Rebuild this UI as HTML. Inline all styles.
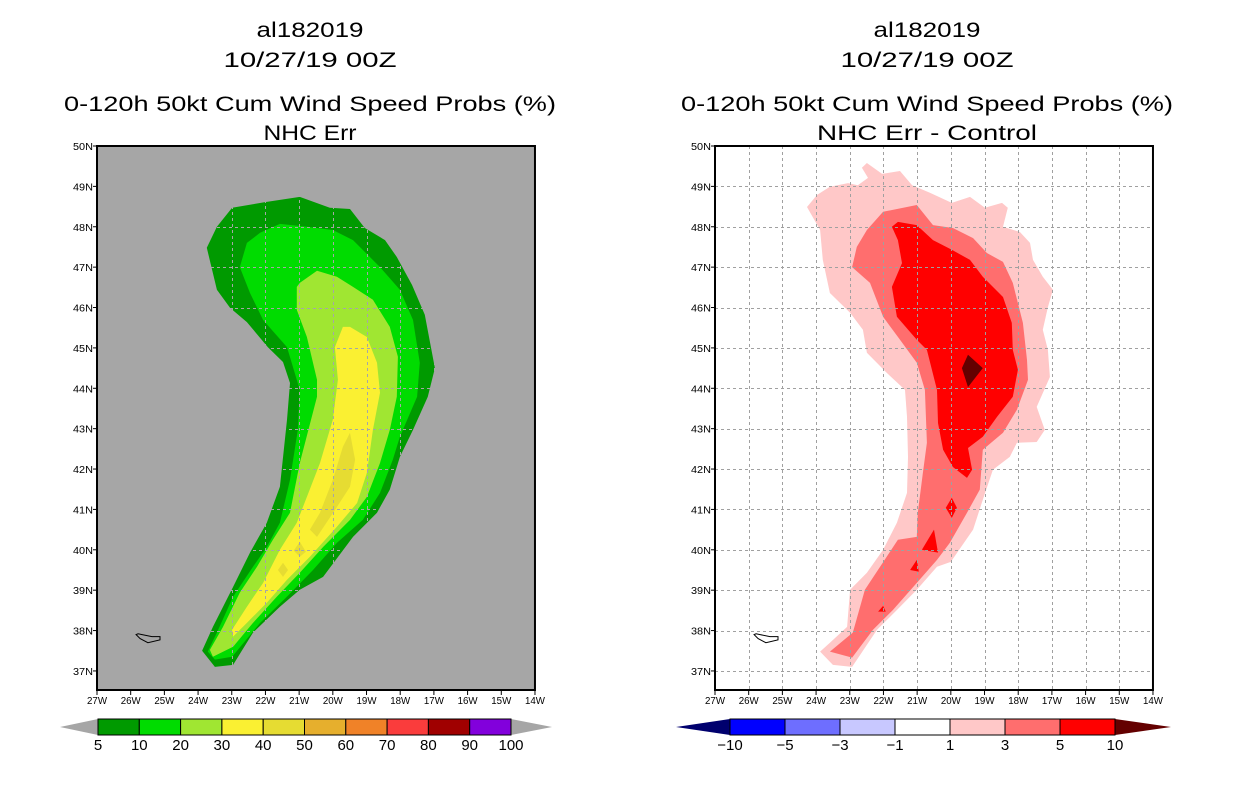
<!DOCTYPE html>
<html><head><meta charset="utf-8"><style>
html,body{margin:0;padding:0;background:#fff;}
svg{display:block;font-family:"Liberation Sans",sans-serif;}
</style></head><body>
<svg id="fig" width="1236" height="800" viewBox="0 0 1236 800" xmlns="http://www.w3.org/2000/svg"></svg>
<script>
// ---------- data ----------
const lonTicks = [27,26,25,24,23,22,21,20,19,18,17,16,15,14];
const latTicks = [37,38,39,40,41,42,43,44,45,46,47,48,49,50];
const leftLevels = ["5","10","20","30","40","50","60","70","80","90","100"];
const leftColors = ["#009a00","#00dc00","#a0e632","#faf032","#e6dc32","#e6af2d","#f08228","#fa3c3c","#a00000","#8200dc"];
const rightLevels = ["-10","-5","-3","-1","1","3","5","10"];
const rightColors = ["#0000ff","#6e6eff","#c8c8ff","#ffffff","#ffc8c8","#ff6e6e","#ff0000"];
// contour polygons: [lon(deg W), lat(deg N)] pairs
const leftC5 = [[22.99,48.47],[22.01,48.61],[20.98,48.74],[20.09,48.47],[19.49,48.44],[19.05,47.97],[18.45,47.67],[18.10,47.25],[17.65,46.56],[17.27,45.82],[16.97,44.50],[17.18,43.79],[17.62,42.97],[18.01,42.30],[18.31,41.49],[18.69,40.92],[19.40,40.32],[20.29,39.33],[20.98,39.01],[21.57,38.59],[22.37,37.95],[22.96,37.15],[23.50,37.10],[23.88,37.50],[23.56,38.09],[22.96,39.08],[22.46,39.93],[21.96,40.67],[21.57,41.56],[21.36,43.22],[21.27,44.13],[21.48,44.65],[21.93,45.02],[22.55,45.64],[23.05,45.99],[23.44,46.44],[23.74,47.48],[23.44,48.00]];
const leftC10 = [[22.55,47.60],[22.16,47.85],[21.57,48.07],[20.77,48.00],[20.00,47.92],[19.40,47.67],[18.60,47.00],[18.01,46.44],[17.62,45.69],[17.42,44.63],[17.50,43.79],[18.01,42.80],[18.22,42.23],[18.60,41.41],[19.11,40.74],[19.88,40.17],[20.59,39.50],[21.36,38.84],[22.16,38.19],[22.99,37.35],[23.50,37.28],[23.71,37.48],[23.44,37.95],[22.96,38.84],[22.37,39.58],[21.96,40.07],[21.57,40.67],[21.27,41.73],[21.04,42.97],[20.98,43.96],[21.36,45.02],[22.07,45.69],[22.46,46.36],[22.76,47.00]];
const leftC20 = [[20.98,46.61],[20.47,46.91],[19.88,46.76],[19.40,46.51],[18.81,46.19],[18.31,45.52],[18.07,44.78],[18.10,43.79],[18.31,42.97],[18.60,42.15],[18.99,41.31],[19.49,40.74],[20.29,40.07],[20.98,39.43],[21.66,38.84],[22.37,38.19],[22.96,37.60],[23.56,37.35],[23.65,37.52],[23.26,38.09],[22.76,38.94],[22.25,39.58],[21.78,40.25],[21.27,40.92],[20.98,42.15],[20.47,43.79],[20.47,44.21],[20.77,45.27],[21.07,45.94],[21.07,46.51]];
const leftC30 = [[19.70,45.52],[19.49,45.52],[18.99,45.27],[18.69,44.63],[18.60,43.89],[18.81,42.97],[18.99,41.91],[19.28,41.16],[19.88,40.57],[20.68,39.83],[21.36,39.26],[21.96,38.69],[22.55,38.19],[22.96,37.85],[22.99,38.02],[22.55,38.59],[22.07,39.18],[21.57,40.00],[21.07,40.67],[20.77,41.31],[20.38,42.15],[20.00,43.22],[19.85,44.21],[19.94,45.02]];
const leftC40a = [[19.49,42.90],[19.34,42.23],[19.49,41.56],[19.88,41.06],[20.47,40.32],[20.68,40.50],[20.38,40.92],[20.00,41.73],[19.70,42.55]];
const leftC40b = [[20.98,40.20],[20.80,39.95],[20.98,39.83],[21.16,39.98]];
const leftC40c = [[21.48,39.68],[21.33,39.50],[21.48,39.33],[21.63,39.50]];
const rightC1 = [[24.27,48.49],[23.97,48.79],[23.59,48.99],[23.05,49.08],[22.76,49.03],[22.46,49.21],[22.64,49.46],[22.49,49.58],[22.04,49.31],[21.51,49.38],[21.15,49.03],[20.62,48.84],[19.97,48.59],[19.43,48.74],[18.99,48.47],[18.48,48.59],[18.31,48.47],[18.45,48.00],[17.95,47.87],[17.65,47.60],[17.56,47.18],[17.27,46.76],[16.97,46.44],[17.12,46.01],[17.27,45.45],[17.12,44.95],[17.06,44.28],[17.45,43.54],[17.21,42.97],[17.45,42.67],[18.04,42.65],[18.25,42.30],[18.75,41.98],[19.05,41.24],[19.34,40.50],[20.00,39.70],[20.41,39.58],[21.01,39.01],[21.60,38.51],[22.19,38.02],[22.93,37.10],[23.50,37.15],[23.88,37.48],[23.59,37.70],[23.08,38.09],[22.99,39.01],[22.49,39.43],[22.01,40.00],[21.60,40.67],[21.30,41.41],[21.27,42.30],[21.30,43.29],[21.36,43.96],[21.90,44.38],[22.49,44.88],[22.61,45.45],[22.99,45.87],[23.59,46.36],[23.80,47.18],[23.88,47.92]];
const rightC3 = [[22.93,47.00],[22.79,47.50],[22.49,47.92],[22.01,48.37],[21.01,48.54],[20.53,48.04],[19.94,47.97],[19.34,47.72],[18.93,47.35],[18.45,47.13],[18.16,46.61],[17.86,45.62],[17.74,44.70],[17.71,44.21],[18.04,43.47],[18.45,42.90],[19.05,42.48],[19.14,41.49],[19.52,40.92],[20.03,40.17],[20.41,39.75],[21.01,39.18],[21.72,38.51],[22.31,38.02],[22.93,37.33],[23.59,37.48],[22.91,37.95],[22.55,39.01],[21.57,40.25],[21.01,40.32],[20.98,40.92],[20.83,41.91],[20.71,42.65],[20.77,43.96],[21.01,44.63],[21.51,45.20],[22.01,45.77],[22.40,46.61]];
const rightC5 = [[21.75,48.00],[21.57,48.12],[21.01,48.04],[20.53,47.67],[19.97,47.43],[19.43,47.18],[19.05,46.76],[18.45,46.26],[18.19,45.62],[18.16,44.95],[18.01,44.46],[18.16,43.79],[18.63,43.29],[19.05,42.80],[19.49,42.52],[19.37,41.98],[19.52,41.78],[19.94,42.05],[20.23,42.48],[20.38,43.14],[20.41,43.96],[20.71,44.95],[21.01,45.20],[21.60,45.77],[21.75,46.51],[21.45,47.10],[21.57,47.67]];
const rightC5b = [[19.97,41.29],[19.82,41.04],[19.97,40.79],[20.15,41.04]];
const rightC5c = [[20.50,40.50],[20.38,39.93],[20.86,40.00]];
const rightC5d = [[21.01,39.75],[20.95,39.46],[21.21,39.50]];
const rightC5e = [[22.01,38.61],[21.93,38.47],[22.16,38.47]];
const rightC10 = [[19.49,44.83],[19.05,44.50],[19.49,44.03],[19.67,44.50]];
const island = [[25.84,37.90],[25.72,37.80],[25.49,37.70],[25.13,37.77],[25.13,37.85],[25.37,37.85],[25.66,37.90],[25.78,37.92]];

// ---------- drawing ----------
const NS = "http://www.w3.org/2000/svg";
const svg = document.getElementById("fig");
function mk(tag, attrs, parent, text) {
  const e = document.createElementNS(NS, tag);
  for (const k in attrs) e.setAttribute(k, attrs[k]);
  if (text !== undefined) e.textContent = text;
  (parent || svg).appendChild(e);
  return e;
}
const Y0 = 146, PXLAT = 40.38, PXLON = 33.69;
function yScale(lat) { return Y0 + (50 - lat) * PXLAT; }
function makeX(x0) { return function (lonW) { return x0 + (27 - lonW) * PXLON; }; }

function titleBlock(cx, lines) {
  const g = mk("g", {});
  
  
  lines.forEach(function (L) {
    const t = mk("text", {x: cx, y: L.y, "text-anchor": "middle", "font-size": 21, textLength: L.w, lengthAdjust: "spacingAndGlyphs", fill: "#000"}, g, L.t);
    
    
  });
}

function panel(x0, bg, gridColor, polys, name) {
  const xs = makeX(x0);
  const g = mk("g", {});
  
  
  const x1 = xs(14);
  const bgr = mk("rect", {x: x0, y: Y0, width: x1 - x0, height: 690 - Y0, fill: bg}, g);
  
  
  polys.forEach(function (p) {
    const pts = p.d.map(function (v) { return xs(v[0]).toFixed(1) + "," + yScale(v[1]).toFixed(1); }).join(" ");
    const pg = mk("polygon", {points: pts, fill: p.c}, g);
    
    
  });
  const ip = island.map(function (v) { return xs(v[0]).toFixed(1) + "," + yScale(v[1]).toFixed(1); }).join(" ");
  const isl = mk("polygon", {points: ip, fill: "none", stroke: "#000", "stroke-width": 1}, g);
  
  
  const gg = mk("g", {stroke: gridColor, "stroke-width": 1, "stroke-dasharray": "3,3"}, g);
  
  
  lonTicks.forEach(function (l) {
    if (l === 27 || l === 14) return;
    const X = Math.round(xs(l)) + 0.5;
    const ln = mk("line", {x1: X, y1: Y0, x2: X, y2: 690}, gg);
    
    
  });
  latTicks.forEach(function (l) {
    if (l === 50) return;
    const Y = Math.round(yScale(l)) + 0.5;
    const ln = mk("line", {x1: x0, y1: Y, x2: x1, y2: Y}, gg);
    
    
  });
  const fr = mk("rect", {x: x0, y: Y0, width: x1 - x0, height: 690 - Y0, fill: "none", stroke: "#000", "stroke-width": 2}, g);
  
  
  lonTicks.forEach(function (l) {
    const X = xs(l);
    const tk = mk("line", {x1: X, y1: 690, x2: X, y2: 695, stroke: "#000", "stroke-width": 1}, g);
    
    
    const t = mk("text", {x: X, y: 704, "text-anchor": "middle", "font-size": 10, textLength: 20, lengthAdjust: "spacingAndGlyphs"}, g, l + "W");
    
    
  });
  latTicks.forEach(function (l) {
    const Y = yScale(l);
    const tk = mk("line", {x1: x0 - 4, y1: Y, x2: x0, y2: Y, stroke: "#000", "stroke-width": 1}, g);
    
    
    const t = mk("text", {x: x0 - 4, y: Y + 4, "text-anchor": "end", "font-size": 10, textLength: 20, lengthAdjust: "spacingAndGlyphs"}, g, l + "N");
    
    
  });
}

function colorbar(xa, xb, tl, tr, colors, labels, lc, rc, name) {
  const g = mk("g", {});
  
  
  const y1 = 719, y2 = 735, ym = 727;
  const lt = mk("polygon", {points: tl + "," + ym + " " + xa + "," + y1 + " " + xa + "," + y2, fill: lc}, g);
  
  
  const rt = mk("polygon", {points: tr + "," + ym + " " + xb + "," + y1 + " " + xb + "," + y2, fill: rc}, g);
  
  
  const w = (xb - xa) / colors.length;
  colors.forEach(function (c, i) {
    const r = mk("rect", {x: xa + i * w, y: y1, width: w, height: y2 - y1, fill: c, stroke: "#000", "stroke-width": 1}, g);
    
    
  });
  labels.forEach(function (s, i) {
    const t = mk("text", {x: xa + i * w, y: 750, "text-anchor": "middle", "font-size": 15}, g, s.replace("-", "\u2212"));
    
    
  });
}

titleBlock(310, [
  {t: "al182019", y: 37, w: 107, name: "title-storm-id"},
  {t: "10/27/19 00Z", y: 67, w: 173, name: "title-date"},
  {t: "0-120h 50kt Cum Wind Speed Probs (%)", y: 111, w: 492, name: "title-product"},
  {t: "NHC Err", y: 140, w: 93, name: "subtitle-left"}
]);
titleBlock(927, [
  {t: "al182019", y: 37, w: 107, name: "title-storm-id"},
  {t: "10/27/19 00Z", y: 67, w: 173, name: "title-date"},
  {t: "0-120h 50kt Cum Wind Speed Probs (%)", y: 111, w: 492, name: "title-product"},
  {t: "NHC Err - Control", y: 140, w: 220, name: "subtitle-right"}
]);

panel(97, "#a6a6a6", "#a6a6a6", [
  {d: leftC5, c: leftColors[0], n: "contour-5"},
  {d: leftC10, c: leftColors[1], n: "contour-10"},
  {d: leftC20, c: leftColors[2], n: "contour-20"},
  {d: leftC30, c: leftColors[3], n: "contour-30"},
  {d: leftC40a, c: leftColors[4], n: "contour-40"},
  {d: leftC40b, c: leftColors[4], n: "contour-40"},
  {d: leftC40c, c: leftColors[4], n: "contour-40"}
], "left-map-panel");

panel(715, "#ffffff", "#a0a0a0", [
  {d: rightC1, c: rightColors[4], n: "contour-diff-1"},
  {d: rightC3, c: rightColors[5], n: "contour-diff-3"},
  {d: rightC5, c: rightColors[6], n: "contour-diff-5"},
  {d: rightC5b, c: rightColors[6], n: "contour-diff-5"},
  {d: rightC5c, c: rightColors[6], n: "contour-diff-5"},
  {d: rightC5d, c: rightColors[6], n: "contour-diff-5"},
  {d: rightC5e, c: rightColors[6], n: "contour-diff-5"},
  {d: rightC10, c: "#640000", n: "contour-diff-10"}
], "right-map-panel");

colorbar(98, 511, 60, 552, leftColors, leftLevels, "#a6a6a6", "#a6a6a6", "left-colorbar");
colorbar(730, 1115, 676, 1171, rightColors, rightLevels, "#00006e", "#640000", "right-colorbar");
</script>
</body></html>
